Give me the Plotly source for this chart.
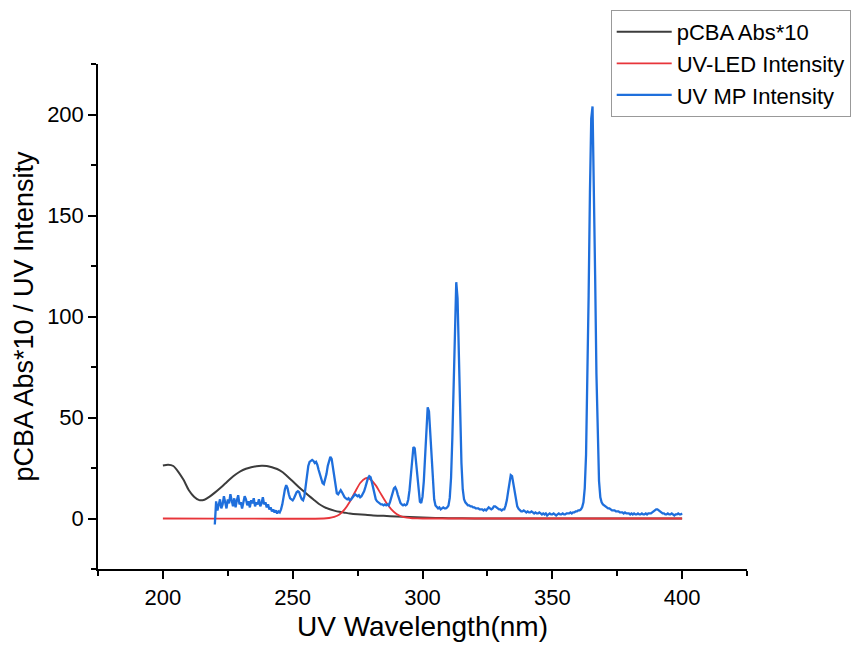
import plotly.graph_objects as go

# ---------------- data ----------------
# pCBA absorbance *10 (black)
pcba_wl = [200, 202, 204, 206, 208, 210, 212, 214, 216, 218, 220, 222, 224, 226, 228,
           230, 232, 234, 236, 238, 240, 242, 244, 246, 248, 250, 252, 254, 256, 258,
           260, 262, 264, 266, 268, 270, 272, 275, 278, 281, 285, 290, 295, 300, 305,
           310, 320, 340, 400]
pcba_abs10 = [26.2, 26.6, 26.0, 23.0, 19.0, 14.0, 10.8, 9.1, 9.3, 10.8, 12.8, 15.0, 17.3, 19.7, 21.8,
              23.5, 24.6, 25.4, 25.9, 26.1, 26.0, 25.4, 24.5, 23.0, 20.8, 18.4, 16.0, 13.7, 11.5, 9.4,
              7.3, 5.8, 4.7, 3.9, 3.3, 2.9, 2.5, 2.1, 1.8, 1.5, 1.3, 1.0, 0.8, 0.5, 0.3,
              0.15, 0.05, 0.0, 0.0]

# UV-LED intensity (red)
led_wl = [200, 262, 264, 266, 268, 270, 272, 274, 276, 278, 279, 280, 282, 284, 286,
          288, 290, 292, 294, 296, 298, 300, 400]
led_int = [0.0, 0.0, 0.25, 0.8, 2.0, 4.5, 8.3, 13.1, 17.6, 19.9, 20.0, 19.3, 16.4, 12.1, 7.9,
           4.5, 2.2, 1.0, 0.4, 0.13, 0.04, 0.0, 0.0]

# UV medium-pressure lamp intensity (blue), sampled every 0.5 nm from 220 to 400 nm
mp_start = 220.0
mp_step = 0.5
mp_int = [
    -3.0, 8.5, 4.0, 6.5, 9.5, 5.0, 7.0, 11.0, 8.0, 5.0,        # 220
    9.5, 7.5, 12.0, 8.5, 6.0, 10.0, 5.5, 9.0, 11.5, 7.0,       # 225
    8.0, 5.0, 7.5, 11.0, 9.5, 6.5, 8.5, 5.5, 9.0, 7.5,         # 230
    10.0, 6.0, 8.0, 7.0, 9.5, 6.0, 7.5, 10.5, 7.0, 8.0,        # 235
    5.5, 7.0, 4.5, 5.5, 3.5, 4.5, 3.0, 4.0, 2.5, 3.5,          # 240
    3.0, 4.5, 7.0, 11.0, 14.5, 16.5, 15.0, 12.0, 10.0, 9.5,    # 245
    9.0, 10.0, 11.5, 13.0, 13.5, 13.0, 11.0, 9.5, 9.0, 11.0,   # 250
    16.0, 22.0, 26.0, 28.0, 28.5, 29.0, 28.5, 27.5, 28.0, 26.5,  # 255
    24.0, 21.5, 19.0, 17.5, 17.0, 19.0, 22.0, 26.0, 29.0, 30.5,  # 260
    29.5, 25.0, 19.0, 14.5, 12.5, 12.0, 13.0, 14.0, 13.0, 11.5,  # 265
    10.5, 10.0, 9.5, 10.0, 9.0, 9.5, 10.5, 11.0, 12.0, 11.5,     # 270
    11.0, 11.5, 10.5, 11.0, 12.0, 13.5, 15.5, 18.0, 20.0, 21.0,  # 275
    20.5, 18.0, 14.5, 11.5, 9.5, 8.5, 8.0, 7.5, 7.0, 7.0,        # 280
    6.5, 7.0, 6.5, 7.0, 6.5, 8.2, 10.2, 12.7, 14.9, 15.5,        # 285
    14.1, 11.7, 9.3, 7.7, 7.0, 6.5, 7.0, 6.5, 7.0, 9.3,          # 290
    14.0, 21.6, 30.0, 35.4, 34.8, 28.5, 19.8, 12.9, 8.3, 7.7,    # 295
    10.7, 18.4, 31.0, 45.0, 55.0, 53.0, 42.4, 28.0, 16.5, 9.5,   # 300
    6.4, 5.5, 5.0, 5.5, 4.5, 5.0, 5.5, 5.0, 5.0, 5.5,            # 305
    6.4, 10.2, 20.2, 40.0, 69.6, 100.0, 117.0, 109.0, 83.0, 51.5,  # 310
    27.5, 14.5, 9.5, 8.0, 7.0, 6.5, 6.5, 6.0, 6.0, 5.5,          # 315
    5.5, 5.0, 5.0, 5.0, 4.5, 4.5, 4.5, 4.0, 4.5, 4.0,            # 320
    5.0, 5.5, 5.0, 4.5, 5.0, 6.0, 6.0, 5.5, 5.0, 4.5,            # 325
    4.5, 4.0, 4.5, 4.5, 6.4, 9.1, 13.4, 18.1, 21.5, 21.0,        # 330
    17.2, 12.3, 8.4, 6.0, 4.8, 4.0, 3.5, 3.5, 4.0, 3.5,          # 335
    3.0, 3.5, 3.0, 3.0, 3.5, 3.0, 2.5, 3.0, 2.5, 2.5,            # 340
    3.0, 2.5, 2.0, 2.5, 2.0, 2.5, 1.5, 2.0, 2.5, 2.0,            # 345
    2.0, 2.5, 2.0, 1.5, 2.0, 2.5, 2.0, 2.0, 2.5, 2.0,            # 350
    2.0, 2.5, 2.5, 2.5, 3.0, 2.5, 3.0, 3.0, 3.5, 3.5,            # 355
    4.0, 4.0, 4.5, 5.5, 8.0, 15.0, 31.5, 63.5, 110.5, 161.5,     # 360
    198.0, 204.0, 170.5, 120.5, 71.5, 37.0, 18.5, 10.5, 8.0, 7.0,  # 365
    6.5, 6.0, 5.5, 5.0, 5.0, 4.5, 4.0, 4.0, 4.0, 3.5,            # 370
    3.5, 3.5, 3.0, 3.0, 3.0, 2.5, 3.0, 2.5, 2.5, 2.5,            # 375
    2.0, 2.5, 2.0, 2.5, 2.0, 2.0, 2.5, 2.0, 2.0, 2.5,            # 380
    2.0, 2.0, 2.5, 2.0, 2.5, 2.5, 2.5, 3.0, 3.5, 4.0,            # 385
    4.5, 4.5, 4.0, 3.5, 3.0, 2.5, 2.5, 2.0, 2.0, 2.5,            # 390
    2.0, 2.0, 2.5, 2.0, 1.5, 2.0, 2.0, 2.5, 2.0, 2.0,            # 395
    2.5,                                                         # 400
]
mp_wl = [mp_start + mp_step * i for i in range(len(mp_int))]

x_ticks = [200, 250, 300, 350, 400]
y_ticks = [0, 50, 100, 150, 200]

FONT = "Liberation Sans, Arial, sans-serif"

# ---------------- figure ----------------
fig = go.Figure()
fig.add_trace(go.Scatter(x=pcba_wl, y=pcba_abs10, mode="lines", name="pCBA Abs*10",
                         line=dict(color="#3c3c3c", width=2, shape="spline", smoothing=0.6)))
fig.add_trace(go.Scatter(x=led_wl, y=led_int, mode="lines", name="UV-LED Intensity",
                         line=dict(color="#e8353a", width=1.8, shape="spline", smoothing=0.6)))
fig.add_trace(go.Scatter(x=mp_wl, y=mp_int, mode="lines", name="UV MP Intensity",
                         line=dict(color="#1f6fdc", width=2.3)))

axis_common = dict(
    showline=True, linecolor="black", linewidth=1.5,
    ticks="outside", ticklen=8, tickwidth=1.5, tickcolor="black",
    showgrid=False, zeroline=False,
    tickfont=dict(family=FONT, size=22, color="black"),
    minor=dict(ticks="outside", ticklen=5, tickwidth=1.5, tickcolor="black", dtick=25, showgrid=False),
)

fig.update_layout(
    width=868, height=647,
    margin=dict(l=98, r=121, t=64, b=78, autoexpand=False),
    paper_bgcolor="white", plot_bgcolor="white",
    font=dict(family=FONT, color="black"),
    xaxis=dict(range=[175, 425], tickvals=x_ticks,
               title=dict(text="UV Wavelength(nm)", font=dict(family=FONT, size=28), standoff=7),
               **axis_common),
    yaxis=dict(range=[-25, 225], tickvals=y_ticks,
               title=dict(text="pCBA Abs*10 / UV Intensity", font=dict(family=FONT, size=27), standoff=6),
               **axis_common),
    legend=dict(x=0.79, y=1.107, xanchor="left", yanchor="top",
                bgcolor="white", bordercolor="#999999", borderwidth=1,
                font=dict(family=FONT, size=22, color="black"),
                itemwidth=55, tracegroupgap=0),
    showlegend=True,
)

fig.write_html("out.html", config={"displayModeBar": False})
